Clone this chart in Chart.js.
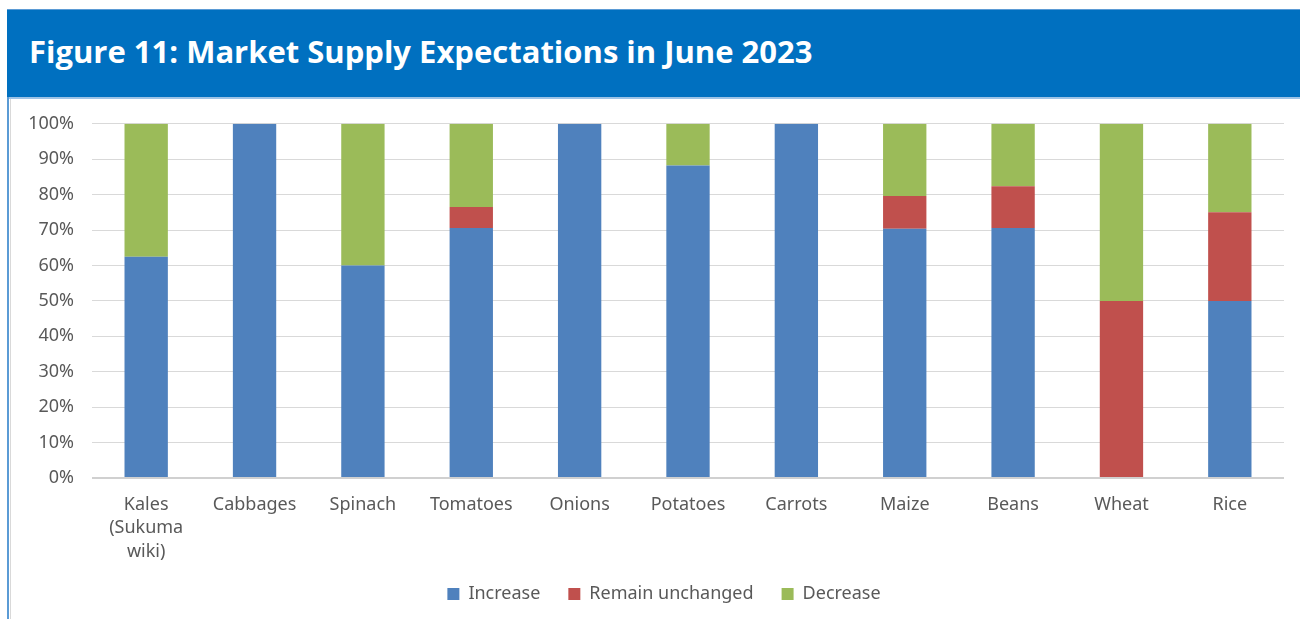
<!DOCTYPE html>
<html>
<head>
<meta charset="utf-8">
<script src="https://cdn.jsdelivr.net/npm/chart.js@4.4.1/dist/chart.umd.min.js"></script>
<style>
  html, body { margin: 0; padding: 0; background: #ffffff; }
  body { width: 1300px; height: 619px; position: relative; overflow: hidden; }
  #header {
    position: absolute; left: 7px; top: 9px; width: 1293px; height: 88px;
    background: #0070C0; border-top: 1px solid #5B9BD5; box-sizing: border-box;
  }
  #header h1 {
    margin: 0; position: absolute; left: 22px; top: 21px;
    font-family: "Open Sans", "Noto Sans", sans-serif; font-weight: 700;
    font-size: 31px; line-height: 40px; color: #ffffff; white-space: nowrap;
  }
  #rule { position: absolute; left: 7px; top: 97px; width: 1293px; height: 2px; background: #9DC3E6; }
  #frameBlue { position: absolute; left: 7px; top: 97px; width: 2px; height: 522px; background: #5B9BD5; }
  #frameGrey { position: absolute; left: 10px; top: 99px; width: 1px; height: 520px; background: #d9d9d9; }
  #wrap { position: absolute; left: 12px; top: 95px; width: 1288px; height: 524px; }
</style>
</head>
<body>
<div id="header"><h1>Figure 11: Market Supply Expectations in June 2023</h1></div>
<div id="rule"></div>
<div id="frameBlue"></div>
<div id="frameGrey"></div>
<div id="wrap"><canvas id="chart"></canvas></div>
<script>
// Crops surveyed, in display order
const categories = [
  ["Kales", "(Sukuma", "wiki)"], "Cabbages", "Spinach", "Tomatoes", "Onions",
  "Potatoes", "Carrots", "Maize", "Beans", "Wheat", "Rice"
];

// Share of traders (%) expecting each change in supply
const increase        = [62.5, 100, 60, 70.6, 100, 88.2, 100, 70.4, 70.6, 0, 50];
const remainUnchanged = [0,    0,   0,  5.9,  0,   0,    0,   9.2,  11.8, 50, 25];
const decrease        = [37.5, 0,   40, 23.5, 0,   11.8, 0,   20.4, 17.6, 50, 25];

const yTicks = [0, 10, 20, 30, 40, 50, 60, 70, 80, 90, 100];

const textColor = "#595959";
const fontFamily = "'Noto Sans', 'Open Sans', sans-serif";

// Centre the legend under the plot area rather than the whole canvas
const legendNudge = {
  id: "legendNudge",
  afterLayout(chart) {
    const lg = chart.legend;
    if (!lg) return;
    lg.left += 16; lg.right += 16;
    lg.top -= 3; lg.bottom -= 3;
  }
};

new Chart(document.getElementById("chart"), {
  type: "bar",
  plugins: [legendNudge],
  data: {
    labels: categories,
    datasets: [
      { label: "Increase", data: increase, backgroundColor: "#4F81BD" },
      { label: "Remain unchanged", data: remainUnchanged, backgroundColor: "#C0504D" },
      { label: "Decrease", data: decrease, backgroundColor: "#9BBB59" }
    ]
  },
  options: {
    responsive: true,
    maintainAspectRatio: false,
    animation: false,
    datasets: { bar: { barPercentage: 0.8, categoryPercentage: 0.5, borderWidth: 0 } },
    layout: { padding: { left: 0, right: 16, top: 18, bottom: 3 } },
    plugins: {
      tooltip: { enabled: false },
      legend: {
        position: "bottom",
        labels: {
          boxWidth: 12, boxHeight: 12, padding: 28,
          color: textColor,
          font: { family: fontFamily, size: 18 }
        }
      }
    },
    scales: {
      x: {
        stacked: true,
        grid: { display: false },
        border: { display: false },
        ticks: {
          color: textColor, padding: 7, maxRotation: 0, autoSkip: false,
          font: { family: fontFamily, size: 18, lineHeight: 1.3 }
        },
        afterFit: (scale) => { scale.height = 82; }
      },
      y: {
        stacked: true,
        min: 0, max: 100,
        afterBuildTicks: (scale) => { scale.ticks = yTicks.map(v => ({ value: v })); },
        grid: {
          color: (ctx) => ctx.tick && ctx.tick.value === 0 ? "#d0d0d0" : "#d9d9d9",
          lineWidth: (ctx) => ctx.tick && ctx.tick.value === 0 ? 2 : 1,
          drawTicks: false
        },
        border: { display: false },
        ticks: {
          color: textColor, padding: 18,
          font: { family: fontFamily, size: 18 },
          callback: (v) => v + "%"
        },
        afterFit: (scale) => { scale.width = 80; }
      }
    }
  }
});
</script>
</body>
</html>
